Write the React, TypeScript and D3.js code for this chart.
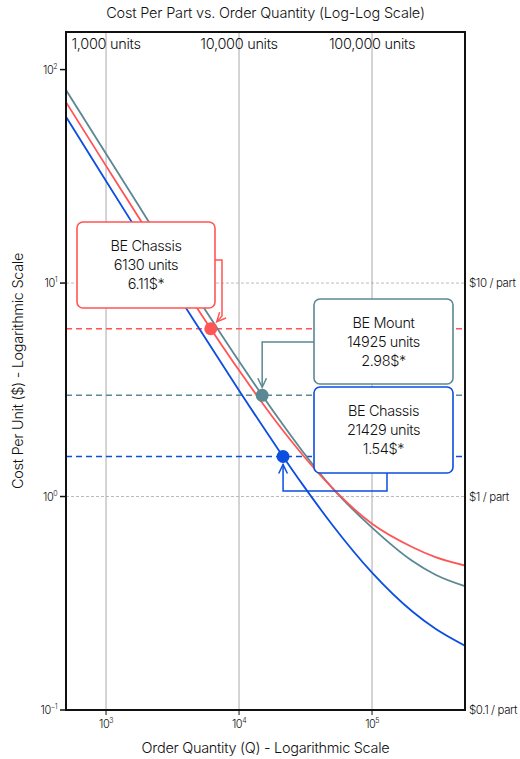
import React from "react";
import * as d3 from "d3";

// order quantities sampled along the curves
const quantities = [500, 1000, 2000, 3000, 5000, 10000, 20000, 30000, 50000, 100000, 200000, 300000, 500000];
// cost per unit
const chassisRed = [70.4, 35.4, 17.9, 12.1, 7.4, 3.9, 2.15, 1.57, 1.1, 0.745, 0.58, 0.52, 0.475];
const mountGray = [80.3, 40.3, 20.3, 13.6, 8.3, 4.3, 2.3, 1.63, 1.1, 0.715, 0.5, 0.43, 0.38];
const chassisBlue = [60.1, 30.1, 15.1, 10.1, 6.14, 3.14, 1.64, 1.14, 0.74, 0.44, 0.29, 0.24, 0.2];

const seriesNames = ["BE Chassis", "BE Mount", "BE Chassis"];
const seriesColors = ["#ff5555", "#5b8892", "#0b4ee0"];
const breakEvenQty = [6130, 14925, 21429];
const breakEvenCost = [6.11, 2.98, 1.54];

const xTicks = [1000, 10000, 100000];
const xTopLabels = ["1,000 units", "10,000 units", "100,000 units"];
const xExp = ["3", "4", "5"];
const yTicks = [100, 10, 1, 0.1];
const yExp = ["2", "1", "0", "-1"];
const refLines = [10, 1, 0.1];
const refLabels = ["$10 / part", "$1 / part", "$0.1 / part"];

const W = 520;
const H = 759;
const FONT = "Inter, 'DejaVu Sans', sans-serif";

export default function App() {
    const left = 66, right = 465, top = 32, bottom = 710;
    const x = d3.scaleLog().domain([500, 500000]).range([left, right]);
    const y = d3.scaleLog().domain([0.1, 150]).range([bottom, top]);

    const line = d3.line<[number, number]>()
        .x(d => x(d[0]))
        .y(d => y(d[1]))
        .curve(d3.curveMonotoneX);

    const curves = [chassisRed, mountGray, chassisBlue];
    // draw order: gray, red, blue (gray underneath)
    const drawOrder = [1, 0, 2];

    const pts = breakEvenQty.map((q, i) => ({ cx: x(q), cy: y(breakEvenCost[i]) }));

    // annotation boxes
    const boxes = [
        { x0: 77, y0: 222, w: 138, h: 86 },
        { x0: 314, y0: 299, w: 139, h: 85 },
        { x0: 314, y0: 387, w: 139, h: 86 },
    ];

    // connector paths: elbow from box to point
    const p0 = pts[0], p1 = pts[1], p2 = pts[2];
    const b0 = boxes[0], b1 = boxes[1], b2 = boxes[2];
    const elbows: [number, number][][] = [
        [[b0.x0 + b0.w, 260], [222, 260], [222, 316], [p0.cx + 6, p0.cy - 7]],
        [[b1.x0, 342], [p1.cx, 342], [p1.cx, p1.cy - 8]],
        [[b2.x0 + 73, b2.y0 + b2.h], [b2.x0 + 73, 491], [p2.cx, 491], [p2.cx, p2.cy + 8]],
    ];

    const arrowHead = (pts: [number, number][]) => {
        const [ax, ay] = pts[pts.length - 2];
        const [bx, by] = pts[pts.length - 1];
        const ang = Math.atan2(by - ay, bx - ax);
        const len = 10, spread = 0.45;
        const l1: [number, number] = [bx - len * Math.cos(ang - spread), by - len * Math.sin(ang - spread)];
        const l2: [number, number] = [bx - len * Math.cos(ang + spread), by - len * Math.sin(ang + spread)];
        return `M${l1[0]},${l1[1]}L${bx},${by}L${l2[0]},${l2[1]}`;
    };

    return (
        <svg width={W} height={H} style={{ position: "absolute", left: 0, top: 0, background: "white" }}
            fontFamily={FONT} fontWeight={300}>
            <text x={(left + right) / 2} y={18} textAnchor="middle" fontSize={14.5} letterSpacing={-0.2} fill="#111">
                Cost Per Part vs. Order Quantity (Log-Log Scale)
            </text>

            {/* vertical grid */}
            {xTicks.map((t, i) => (
                <g key={i}>
                    <line x1={x(t)} x2={x(t)} y1={top} y2={bottom} stroke="#b8b8b8" strokeWidth={1.2} />
                    <text x={x(t)} y={49} textAnchor="middle" fontSize={14.5} letterSpacing={-0.3} fill="#111">
                        {xTopLabels[i]}
                    </text>
                    <line x1={x(t)} x2={x(t)} y1={bottom} y2={bottom + 5} stroke="#111" strokeWidth={1} />
                    <text x={x(t)} y={728} textAnchor="middle" fontSize={11} letterSpacing={-0.5} fill="#111">
                        10<tspan fontSize={7} dy={-5}>{xExp[i]}</tspan>
                    </text>
                </g>
            ))}

            {/* reference dotted lines */}
            {refLines.map((v, i) => (
                <g key={i}>
                    <line x1={left} x2={right} y1={y(v)} y2={y(v)} stroke="#aaa" strokeWidth={0.8} strokeDasharray="3,2" />
                    <text x={right + 4} y={y(v) + 4} fontSize={11.5} letterSpacing={-0.4} fill="#111">{refLabels[i]}</text>
                </g>
            ))}

            {/* break-even dashed lines */}
            {breakEvenCost.map((c, i) => (
                <line key={i} x1={left} x2={right} y1={y(c)} y2={y(c)} stroke={seriesColors[i]}
                    strokeWidth={1.5} strokeDasharray="6,4" />
            ))}

            {/* curves */}
            <defs>
                <clipPath id="plot-clip">
                    <rect x={left} y={top} width={right - left} height={bottom - top} />
                </clipPath>
            </defs>
            <g clipPath="url(#plot-clip)">
                {drawOrder.map(i => (
                    <path key={i} d={line(quantities.map((q, j) => [q, curves[i][j]] as [number, number])) || ""}
                        fill="none" stroke={seriesColors[i]} strokeWidth={1.8} />
                ))}
            </g>

            {/* y ticks */}
            {yTicks.map((t, i) => (
                <g key={i}>
                    <line x1={left - 6} x2={left} y1={y(t)} y2={y(t)} stroke="#111" strokeWidth={1.5} />
                    <text x={left - 9} y={y(t) + 4} textAnchor="end" fontSize={11} letterSpacing={-0.5} fill="#111">
                        10<tspan fontSize={7} dy={-5}>{yExp[i].replace("-", "\u2212")}</tspan>
                    </text>
                </g>
            ))}

            {/* frame */}
            <rect x={left} y={top} width={right - left} height={bottom - top} fill="none" stroke="#111" strokeWidth={2} />

            {/* annotations */}
            {boxes.map((b, i) => (
                <g key={i}>
                    <path d={d3.line()(elbows[i]) || ""} fill="none" stroke={seriesColors[i]} strokeWidth={1.5} />
                    <path d={arrowHead(elbows[i])} fill="none" stroke={seriesColors[i]} strokeWidth={1.5} />
                    <rect x={b.x0} y={b.y0} width={b.w} height={b.h} rx={6} fill="white"
                        stroke={seriesColors[i]} strokeWidth={1.6} />
                    <text x={b.x0 + b.w / 2} textAnchor="middle" fontSize={14.5} letterSpacing={-0.4} fill="#111">
                        <tspan x={b.x0 + b.w / 2} y={b.y0 + 29}>{seriesNames[i]}</tspan>
                        <tspan x={b.x0 + b.w / 2} y={b.y0 + 48}>{breakEvenQty[i]} units</tspan>
                        <tspan x={b.x0 + b.w / 2} y={b.y0 + 67}>{breakEvenCost[i].toFixed(2)}$*</tspan>
                    </text>
                </g>
            ))}

            {/* break-even points */}
            {pts.map((p, i) => (
                <circle key={i} cx={p.cx} cy={p.cy} r={6.5} fill={seriesColors[i]} />
            ))}

            {/* axis titles */}
            <text x={(left + right) / 2} y={753} textAnchor="middle" fontSize={14.5} letterSpacing={-0.3} fill="#111">
                Order Quantity (Q) - Logarithmic Scale
            </text>
            <text transform={`translate(23,${(top + bottom) / 2}) rotate(-90)`} textAnchor="middle" fontSize={14.5}
                letterSpacing={-0.3} fill="#111">
                Cost Per Unit ($) - Logarithmic Scale
            </text>
        </svg>
    );
}
